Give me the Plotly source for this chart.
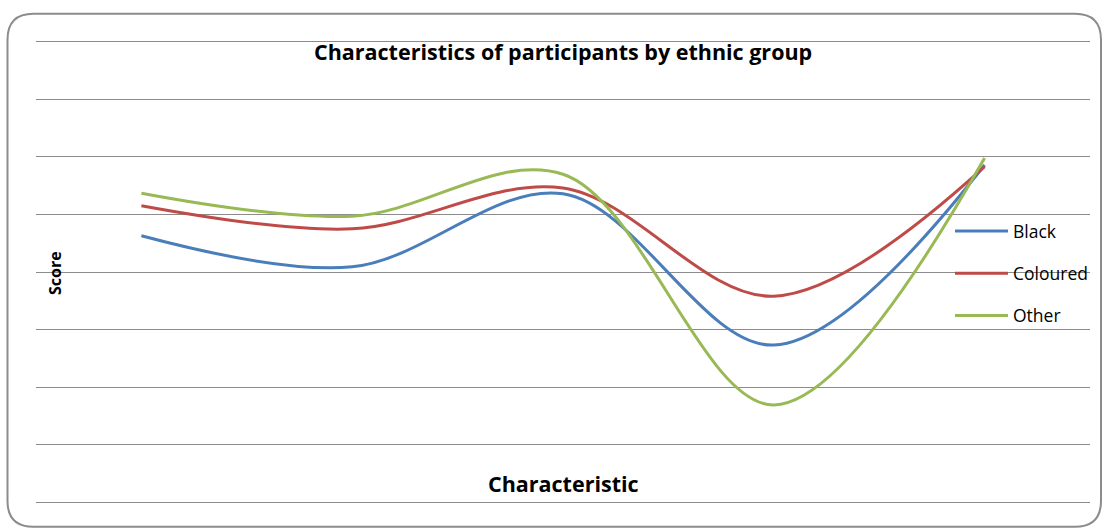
import plotly.graph_objects as go

# Chart data: five characteristics scored for each ethnic group
characteristics = ["1", "2", "3", "4", "5"]
black = [4.63, 4.09, 5.36, 2.73, 5.86]
coloured = [5.15, 4.75, 5.46, 3.58, 5.83]
other = [5.37, 4.97, 5.70, 1.69, 5.98]

series = [
    ("Black", black, "#4A7EBB"),
    ("Coloured", coloured, "#BE4B48"),
    ("Other", other, "#98B954"),
]

W, H = 1107, 530
Y_MIN, Y_MAX, PAD = 0, 8, 0.05
GRID_TOP, GRID_BOTTOM = 41.7, 502.3          # pixel rows of the outer gridlines
unit = (GRID_BOTTOM - GRID_TOP) / (Y_MAX - Y_MIN)
ML, MR = 36, 17
MT = GRID_TOP - PAD * unit
MB = H - GRID_BOTTOM - PAD * unit
PW, PH = W - ML - MR, H - MT - MB


def px(x):
    return (x - ML) / PW


def py(y):
    return 1 - (y - MT) / PH


fig = go.Figure()
for i, (name, vals, color) in enumerate(series):
    fig.add_trace(go.Scatter(
        x=characteristics, y=vals, name=name, mode="lines",
        line=dict(color=color, width=3, shape="spline", smoothing=1.0),
        legendgroup=f"g{i}",
    ))

# rounded chart-area frame
x0, x1, y0, y1, r = 7.5, 1101, 13.5, 527, 26
path = (
    f"M {px(x0 + r)},{py(y0)} L {px(x1 - r)},{py(y0)} "
    f"Q {px(x1)},{py(y0)} {px(x1)},{py(y0 + r)} "
    f"L {px(x1)},{py(y1 - r)} Q {px(x1)},{py(y1)} {px(x1 - r)},{py(y1)} "
    f"L {px(x0 + r)},{py(y1)} Q {px(x0)},{py(y1)} {px(x0)},{py(y1 - r)} "
    f"L {px(x0)},{py(y0 + r)} Q {px(x0)},{py(y0)} {px(x0 + r)},{py(y0)} Z"
)
fig.add_shape(type="path", path=path, xref="paper", yref="paper",
              line=dict(color="#8C8C8C", width=2), layer="below")

font = "'Open Sans', sans-serif"


def label(text, x, y, size, angle=0):
    fig.add_annotation(text=text, textangle=angle, x=px(x), y=py(y),
                       xref="paper", yref="paper", xanchor="center",
                       yanchor="middle", showarrow=False,
                       font=dict(family=font, size=size, color="#000"))


label("<b>Characteristics of participants by ethnic group</b>", 563, 51, 21.5)
label("<b>Characteristic</b>", 563, 484, 21.5)
label("<b>Score</b>", 55, 273, 16, angle=-90)

fig.update_layout(
    width=W, height=H,
    margin=dict(l=ML, r=MR, t=MT, b=MB, pad=0),
    paper_bgcolor="white", plot_bgcolor="white",
    showlegend=True,
    legend=dict(x=px(950), y=py(213), xanchor="left", yanchor="top",
                font=dict(family=font, size=17.5, color="#000"),
                itemwidth=53, tracegroupgap=16.5, bgcolor="rgba(0,0,0,0)"),
    xaxis=dict(range=[-0.5, 4.5], showticklabels=False, showgrid=False,
               zeroline=False, showline=False, ticks=""),
    yaxis=dict(range=[Y_MIN - PAD, Y_MAX + PAD], dtick=1,
               showticklabels=False, showgrid=True, gridcolor="#8C8C8C",
               gridwidth=1, zeroline=False, showline=False, ticks=""),
)

fig.write_html("out.html")
